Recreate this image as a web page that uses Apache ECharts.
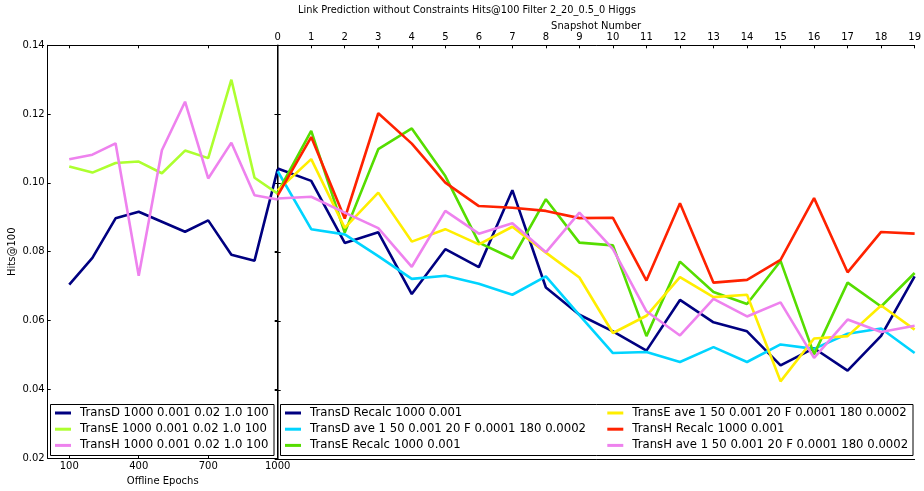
<!DOCTYPE html>
<html>
<head>
<meta charset="utf-8">
<script src="https://cdn.jsdelivr.net/npm/echarts@6/dist/echarts.min.js"></script>
<style>
  html, body { margin: 0; padding: 0; background: #fff; }
  #chart { width: 924px; height: 491px; }
</style>
</head>
<body>
<div id="chart"></div>
<script>
// Offline training epochs (left panel)
const offlineEpochs = [100, 200, 300, 400, 500, 600, 700, 800, 900, 1000];
const offlineTickLabels = [100, 400, 700, 1000];
const transDOffline = [0.0704, 0.0782, 0.0897, 0.0916, 0.0887, 0.0858, 0.0891, 0.0791, 0.0774, 0.1040];
const transEOffline = [0.1048, 0.1030, 0.1058, 0.1062, 0.1028, 0.1094, 0.1072, 0.1300, 0.1015, 0.0969];
const transHOffline = [0.1069, 0.1082, 0.1115, 0.0730, 0.1095, 0.1236, 0.1013, 0.1117, 0.0964, 0.0952];

// Snapshot number (right panel)
const snapshots = [0, 1, 2, 3, 4, 5, 6, 7, 8, 9, 10, 11, 12, 13, 14, 15, 16, 17, 18, 19];
const transDRecalc = [0.1043, 0.1007, 0.0827, 0.0858, 0.0679, 0.0809, 0.0757, 0.0980, 0.0698, 0.0619, 0.0571, 0.0515, 0.0662, 0.0597, 0.0571, 0.0472, 0.0522, 0.0457, 0.0558, 0.0730];
const transDAve    = [0.1035, 0.0867, 0.0852, 0.0789, 0.0723, 0.0732, 0.0709, 0.0677, 0.0730, 0.0618, 0.0508, 0.0511, 0.0482, 0.0525, 0.0482, 0.0533, 0.0520, 0.0564, 0.0579, 0.0508];
const transERecalc = [0.0973, 0.1152, 0.0857, 0.1099, 0.1159, 0.1021, 0.0828, 0.0782, 0.0954, 0.0828, 0.0820, 0.0557, 0.0773, 0.0685, 0.0650, 0.0775, 0.0504, 0.0712, 0.0643, 0.0740];
const transEAve    = [0.0980, 0.1070, 0.0871, 0.0973, 0.0831, 0.0867, 0.0823, 0.0874, 0.0799, 0.0727, 0.0566, 0.0616, 0.0728, 0.0670, 0.0677, 0.0426, 0.0550, 0.0557, 0.0646, 0.0576];
const transHRecalc = [0.0965, 0.1134, 0.0898, 0.1203, 0.1115, 0.1002, 0.0934, 0.0929, 0.0920, 0.0899, 0.0900, 0.0718, 0.0942, 0.0712, 0.0720, 0.0778, 0.0957, 0.0742, 0.0859, 0.0854];
const transHAve    = [0.0956, 0.0961, 0.0915, 0.0870, 0.0758, 0.0920, 0.0854, 0.0884, 0.0800, 0.0915, 0.0809, 0.0629, 0.0559, 0.0665, 0.0614, 0.0655, 0.0494, 0.0605, 0.0569, 0.0587];

const offlineNames = [
  'TransD 1000 0.001 0.02 1.0 100',
  'TransE 1000 0.001 0.02 1.0 100',
  'TransH 1000 0.001 0.02 1.0 100'
];
const onlineNames = [
  'TransD Recalc 1000 0.001',
  'TransD ave 1 50 0.001 20 F 0.0001 180 0.0002',
  'TransE Recalc 1000 0.001',
  'TransE ave 1 50 0.001 20 F 0.0001 180 0.0002',
  'TransH Recalc 1000 0.001',
  'TransH ave 1 50 0.001 20 F 0.0001 180 0.0002'
];

const FONT = 'DejaVu Sans';
const pair = (xs, ys) => xs.map((x, i) => [x, ys[i]]);

const G_TOP = 45.3, G_BOTTOM = 459.3, G_LEFT = 47.7, G_MID = 277.7, G_RIGHT = 915;

const tickStyle = { show: true, inside: true, length: 3, lineStyle: { color: '#000', width: 1 } };
const axisLine = { show: true, lineStyle: { color: '#000', width: 1 } };
const lblStyle = { color: '#000', fontFamily: FONT, fontSize: 10 };

function lineSeries(name, color, xIdx, yIdx, data) {
  return {
    type: 'line', name, xAxisIndex: xIdx, yAxisIndex: yIdx, data,
    showSymbol: false, symbol: 'none', smooth: false, animation: false,
    lineStyle: { color, width: 2.6 }, itemStyle: { color }
  };
}

const legendText = { fontFamily: FONT, fontSize: 11.7, color: '#000', lineHeight: 14, padding: [0, 0, 0, 4] };
function legendAt(left, top, names) {
  return {
    orient: 'vertical', left, top, data: names, icon: 'rect',
    itemWidth: 16, itemHeight: 3, itemGap: 2.2, selectedMode: false,
    textStyle: legendText, padding: 0, z: 10
  };
}

const option = {
  animation: false,
  backgroundColor: '#fff',
  title: {
    text: 'Link Prediction without Constraints Hits@100 Filter 2_20_0.5_0 Higgs',
    left: 467, top: 5, padding: 0, textAlign: 'center',
    textStyle: { fontFamily: FONT, fontSize: 9.8, fontWeight: 'normal', color: '#000' }
  },
  grid: [
    { left: G_LEFT, top: G_TOP, width: G_MID - G_LEFT, height: G_BOTTOM - G_TOP },
    { left: G_MID, top: G_TOP, width: G_RIGHT - G_MID, height: G_BOTTOM - G_TOP }
  ],
  xAxis: [
    { // offline epochs, bottom
      gridIndex: 0, type: 'value', position: 'bottom', min: 7, max: 1000,
      name: 'Offline Epochs', nameLocation: 'middle', nameGap: 13,
      nameTextStyle: lblStyle,
      axisLine, splitLine: { show: false },
      axisTick: Object.assign({}, tickStyle, { customValues: offlineTickLabels }),
      axisLabel: Object.assign({}, lblStyle, { margin: 3, customValues: offlineTickLabels, formatter: v => String(v) })
    },
    { // offline epochs, mirrored top ticks
      gridIndex: 0, type: 'value', position: 'top', min: 7, max: 1000,
      axisLine, splitLine: { show: false },
      axisTick: Object.assign({}, tickStyle, { customValues: offlineTickLabels }),
      axisLabel: { show: false }
    },
    { // snapshot number, top
      gridIndex: 1, type: 'value', position: 'top', min: 0, max: 19, interval: 1,
      name: 'Snapshot Number', nameLocation: 'middle', nameGap: 14, nameMoveOverlap: false,
      nameTextStyle: lblStyle,
      axisLine, splitLine: { show: false },
      axisTick: tickStyle,
      axisLabel: Object.assign({}, lblStyle, { margin: 3 })
    },
    { // snapshot number, bottom spine
      gridIndex: 1, type: 'value', position: 'bottom', min: 0, max: 19, interval: 1,
      axisLine, splitLine: { show: false },
      axisTick: { show: false }, axisLabel: { show: false }
    }
  ],
  yAxis: [
    {
      gridIndex: 0, type: 'value', position: 'left', min: 0.02, max: 0.14, interval: 0.02,
      name: 'Hits@100', nameLocation: 'middle', nameGap: 30, nameMoveOverlap: false, nameTextStyle: lblStyle,
      axisLine, splitLine: { show: false }, axisTick: tickStyle,
      axisLabel: Object.assign({}, lblStyle, { margin: 3, formatter: v => v.toFixed(2) })
    },
    {
      gridIndex: 0, type: 'value', position: 'right', min: 0.02, max: 0.14, interval: 0.02,
      axisLine: { show: true, lineStyle: { color: '#444', width: 1 } },
      splitLine: { show: false }, axisTick: tickStyle, axisLabel: { show: false }
    },
    {
      gridIndex: 1, type: 'value', position: 'left', min: 0.02, max: 0.14, interval: 0.02,
      axisLine: { show: true, lineStyle: { color: '#444', width: 1.5 } },
      splitLine: { show: false }, axisTick: tickStyle, axisLabel: { show: false }
    },
    {
      gridIndex: 1, type: 'value', position: 'right', min: 0.02, max: 0.14, interval: 0.02,
      axisLine, splitLine: { show: false }, axisTick: tickStyle, axisLabel: { show: false }
    }
  ],
  legend: [
    legendAt(55, 406, offlineNames),
    legendAt(285, 406, onlineNames.slice(0, 3)),
    legendAt(607.3, 406, onlineNames.slice(3))
  ],
  graphic: [
    { type: 'rect', z: 5, shape: { x: 50.5, y: 404.5, width: 223.5, height: 51 },
      style: { fill: '#fff', stroke: '#000', lineWidth: 1 } },
    { type: 'rect', z: 5, shape: { x: 280.5, y: 404.5, width: 632.5, height: 51 },
      style: { fill: '#fff', stroke: '#000', lineWidth: 1 } }
  ],
  series: [
    lineSeries(offlineNames[0], '#000080', 0, 0, pair(offlineEpochs, transDOffline)),
    lineSeries(offlineNames[1], '#adff2f', 0, 0, pair(offlineEpochs, transEOffline)),
    lineSeries(offlineNames[2], '#ee82ee', 0, 0, pair(offlineEpochs, transHOffline)),
    lineSeries(onlineNames[0], '#000080', 2, 2, pair(snapshots, transDRecalc)),
    lineSeries(onlineNames[1], '#00d4ff', 2, 2, pair(snapshots, transDAve)),
    lineSeries(onlineNames[2], '#55dd00', 2, 2, pair(snapshots, transERecalc)),
    lineSeries(onlineNames[3], '#ffee00', 2, 2, pair(snapshots, transEAve)),
    lineSeries(onlineNames[4], '#ff2200', 2, 2, pair(snapshots, transHRecalc)),
    lineSeries(onlineNames[5], '#ee82ee', 2, 2, pair(snapshots, transHAve))
  ]
};

const chart = echarts.init(document.getElementById('chart'), null, { renderer: 'canvas' });
chart.setOption(option);
</script>
</body>
</html>
